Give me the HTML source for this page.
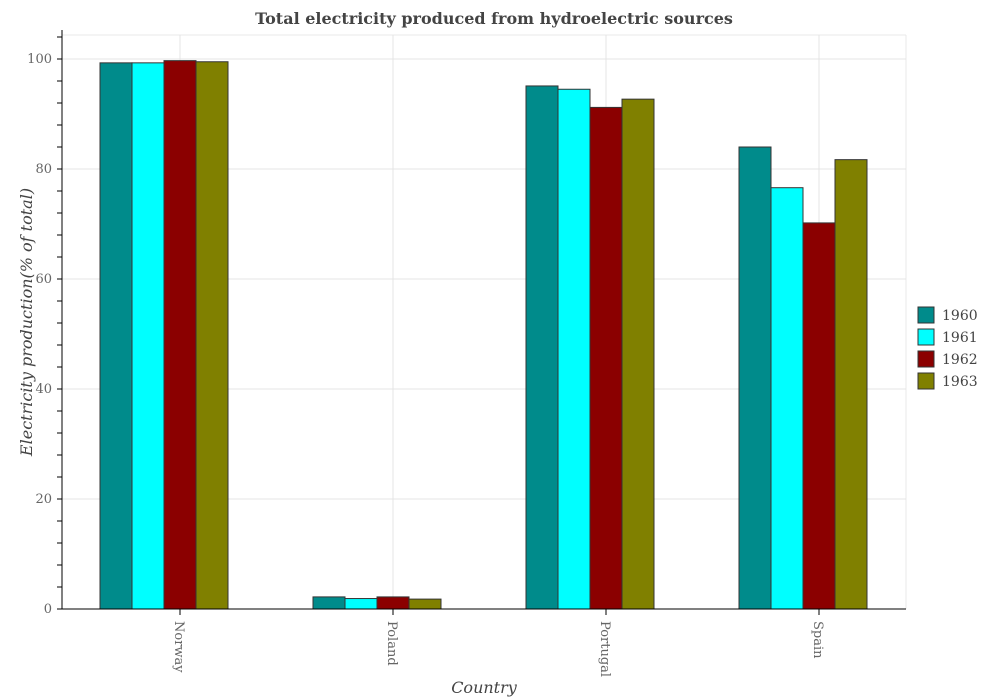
<!DOCTYPE html>
<html><head><meta charset="utf-8"><style>
body{margin:0;background:#fff}
svg{display:block;font-family:"DejaVu Serif","Liberation Serif",serif}
</style></head><body>
<svg id="chart" width="989" height="700">
<text x="494" y="24" text-anchor="middle" font-size="16" font-weight="bold" fill="#444">Total electricity produced from hydroelectric sources</text>
<g id="grid"></g>
<g id="bars"></g>
<g id="axes"></g>
<text transform="translate(32,322) rotate(-90)" text-anchor="middle" font-size="16" font-style="italic" fill="#444">Electricity production(% of total)</text>
<text x="484" y="693" text-anchor="middle" font-size="16" font-style="italic" fill="#444">Country</text>
<g id="legend"></g>
</svg>
<script>
const categories=["Norway","Poland","Portugal","Spain"];
const seriesNames=["1960","1961","1962","1963"];
const v1960=[99.3,2.2,95.1,84.0];
const v1961=[99.3,1.9,94.5,76.6];
const v1962=[99.7,2.2,91.2,70.2];
const v1963=[99.5,1.8,92.7,81.7];
const yTicks=[0,20,40,60,80,100];
const series=[v1960,v1961,v1962,v1963];
const colors=["#008b8b","#00ffff","#8b0000","#808000"];
const NS="http://www.w3.org/2000/svg";
const L=62,R=906,T=35,B=609;
function y(v){return B-5.5*v;}
function xc(i){return 180+213*i;}
function mk(tag,attrs,parent){const e=document.createElementNS(NS,tag);for(const k in attrs)e.setAttribute(k,attrs[k]);parent.appendChild(e);return e;}
const grid=document.getElementById('grid'),bars=document.getElementById('bars'),axes=document.getElementById('axes'),legend=document.getElementById('legend');
mk('line',{x1:L,x2:R,y1:T,y2:T,stroke:'#e8e8e8'},grid);
mk('line',{x1:R,x2:R,y1:T,y2:B,stroke:'#e8e8e8'},grid);
yTicks.forEach(t=>{
  const g=mk('line',{x1:L,x2:R,y1:y(t),y2:y(t),stroke:'#e4e4e4'},grid);
  
  
  const tl=mk('text',{x:L-10,y:y(t)+4,'text-anchor':'end','font-size':13,fill:'#666'},axes);
  tl.textContent=t;
  
  
});
for(let v=0;v<=104;v+=4){mk('line',{x1:L-5,x2:L,y1:y(v),y2:y(v),stroke:'#000'},axes);}
categories.forEach((c,i)=>{
  mk('line',{x1:xc(i),x2:xc(i),y1:T,y2:B,stroke:'#e4e4e4'},grid);
  series.forEach((s,j)=>{
    const r=mk('rect',{x:xc(i)-80+32*j,y:y(s[i]),width:32,height:B-y(s[i]),fill:colors[j],stroke:'#333','stroke-width':1},bars);
    
    
  });
  mk('line',{x1:xc(i),x2:xc(i),y1:B,y2:B+6,stroke:'#000'},axes);
  const tl=mk('text',{transform:`translate(${xc(i)-5},${B+12}) rotate(90)`,'font-size':13,fill:'#666'},axes);
  tl.textContent=c;
  
  
});
mk('line',{x1:L,x2:L,y1:T-5,y2:B,stroke:'#000'},axes);
mk('line',{x1:L,x2:R,y1:B,y2:B,stroke:'#000'},axes);
seriesNames.forEach((n,j)=>{
  const cy=315+22*j;
  const sq=mk('rect',{x:918,y:cy-8,width:16,height:16,fill:colors[j],stroke:'#333'},legend);
  
  
  const t=mk('text',{x:942,y:cy+5,'font-size':14,fill:'#444'},legend);
  t.textContent=n;
  
  
});
</script>
</body></html>
